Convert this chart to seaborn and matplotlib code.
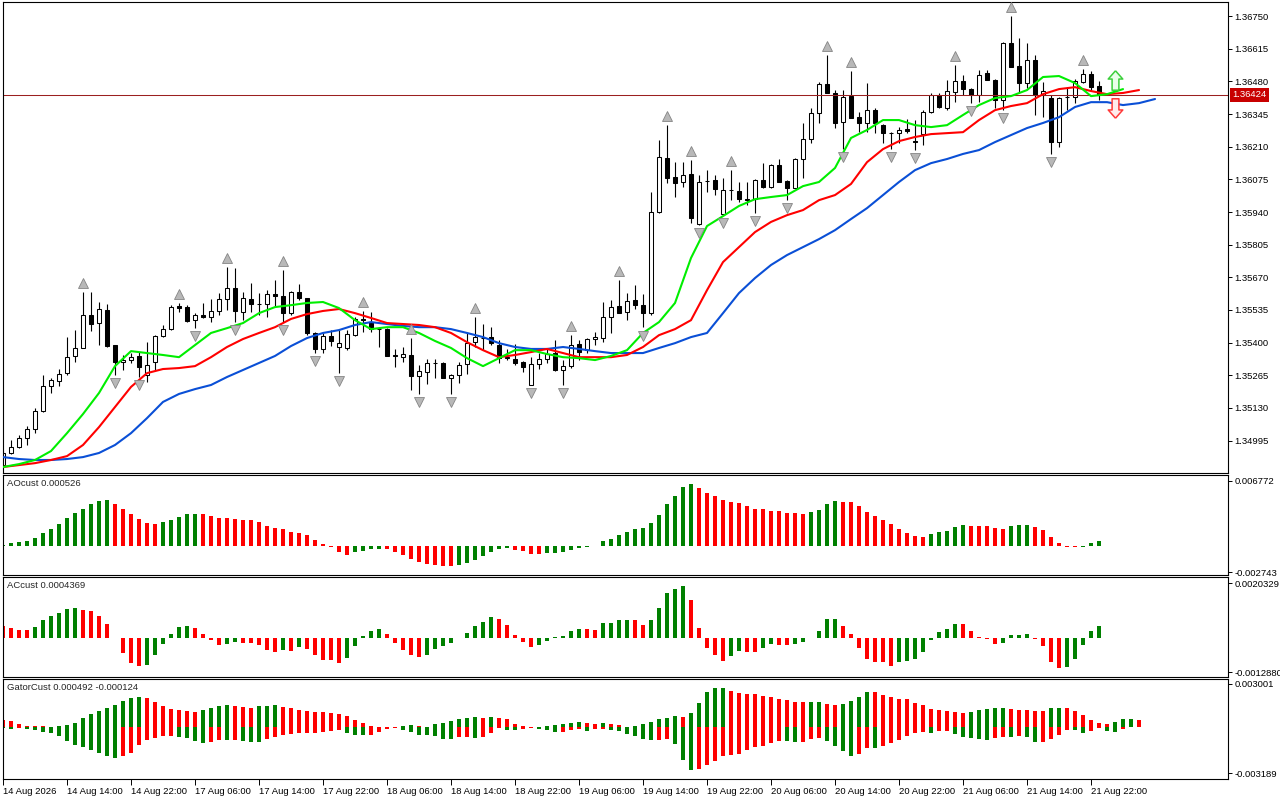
import numpy as np
import seaborn as sns
import matplotlib.pyplot as plt
from matplotlib import transforms
from matplotlib.path import Path

sns.set_theme(style="white")
plt.rcParams["font.family"] = ["Liberation Sans", "DejaVu Sans"]
plt.rcParams["font.size"] = 6.8

# ---------------- data (H1 bars, 14 Aug 06:00 .. 21 Aug 23:00) ----------------
opens = [
    1.34894, 1.34944, 1.34969, 1.35006, 1.35043, 1.35117, 1.35221, 1.35241, 1.35274, 1.35345,
    1.35378, 1.35514, 1.35481, 1.35535, 1.35390, 1.35320, 1.35328, 1.35345, 1.35266, 1.35320,
    1.35427, 1.35456, 1.35551, 1.35547, 1.35493, 1.35514, 1.35506, 1.35531, 1.35580, 1.35626,
    1.35526, 1.35580, 1.35560, 1.35560, 1.35601, 1.35593, 1.35522, 1.35609, 1.35584, 1.35440,
    1.35374, 1.35427, 1.35382, 1.35378, 1.35431, 1.35498, 1.35485, 1.35456, 1.35456, 1.35349,
    1.35340, 1.35349, 1.35262, 1.35279, 1.35316, 1.35316, 1.35254, 1.35266, 1.35312, 1.35402,
    1.35419, 1.35423, 1.35390, 1.35336, 1.35332, 1.35320, 1.35225, 1.35312, 1.35332, 1.35357,
    1.35287, 1.35303, 1.35394, 1.35369, 1.35415, 1.35419, 1.35506, 1.35551, 1.35526, 1.35576,
    1.35555, 1.35522, 1.35940, 1.36163, 1.36084, 1.36064, 1.36097, 1.35890, 1.36068, 1.36072,
    1.35932, 1.36031, 1.36027, 1.35993, 1.35993, 1.36072, 1.36043, 1.36134, 1.36068, 1.36039,
    1.36159, 1.36241, 1.36349, 1.36469, 1.36432, 1.36312, 1.36419, 1.36332, 1.36308, 1.36361,
    1.36299, 1.36266, 1.36266, 1.36283, 1.36233, 1.36262, 1.36353, 1.36423, 1.36370, 1.36436,
    1.36481, 1.36448, 1.36423, 1.36514, 1.36485, 1.36403, 1.36638, 1.36543, 1.36473, 1.36568,
    1.36423, 1.36411, 1.36229, 1.36415, 1.36415, 1.36477, 1.36510, 1.36461,
]
highs = [
    1.34952, 1.34997, 1.35018, 1.35055, 1.35130, 1.35266, 1.35254, 1.35291, 1.35423, 1.35452,
    1.35609, 1.35609, 1.35568, 1.35560, 1.35390, 1.35349, 1.35357, 1.35361, 1.35402, 1.35431,
    1.35473, 1.35555, 1.35564, 1.35555, 1.35522, 1.35564, 1.35580, 1.35605, 1.35712, 1.35708,
    1.35609, 1.35646, 1.35605, 1.35617, 1.35659, 1.35700, 1.35613, 1.35642, 1.35584, 1.35444,
    1.35440, 1.35452, 1.35452, 1.35452, 1.35506, 1.35531, 1.35526, 1.35464, 1.35460, 1.35374,
    1.35382, 1.35419, 1.35307, 1.35332, 1.35332, 1.35320, 1.35270, 1.35320, 1.35440, 1.35506,
    1.35477, 1.35464, 1.35411, 1.35374, 1.35394, 1.35324, 1.35340, 1.35357, 1.35378, 1.35411,
    1.35328, 1.35431, 1.35411, 1.35419, 1.35444, 1.35568, 1.35576, 1.35659, 1.35605, 1.35638,
    1.35601, 1.36022, 1.36237, 1.36299, 1.36146, 1.36146, 1.36155, 1.36093, 1.36113, 1.36093,
    1.36080, 1.36113, 1.36064, 1.36064, 1.36076, 1.36142, 1.36138, 1.36159, 1.36072, 1.36163,
    1.36308, 1.36370, 1.36477, 1.36589, 1.36444, 1.36444, 1.36523, 1.36353, 1.36473, 1.36370,
    1.36303, 1.36270, 1.36291, 1.36324, 1.36320, 1.36361, 1.36432, 1.36432, 1.36485, 1.36547,
    1.36506, 1.36452, 1.36527, 1.36527, 1.36489, 1.36642, 1.36750, 1.36659, 1.36638, 1.36589,
    1.36477, 1.36423, 1.36415, 1.36456, 1.36489, 1.36531, 1.36523, 1.36481,
]
lows = [
    1.34890, 1.34940, 1.34964, 1.34977, 1.35026, 1.35113, 1.35192, 1.35221, 1.35266, 1.35320,
    1.35378, 1.35448, 1.35390, 1.35382, 1.35266, 1.35287, 1.35316, 1.35258, 1.35237, 1.35287,
    1.35423, 1.35452, 1.35526, 1.35485, 1.35460, 1.35502, 1.35485, 1.35514, 1.35535, 1.35485,
    1.35493, 1.35526, 1.35514, 1.35506, 1.35547, 1.35485, 1.35514, 1.35576, 1.35431, 1.35357,
    1.35357, 1.35386, 1.35274, 1.35369, 1.35427, 1.35444, 1.35444, 1.35382, 1.35345, 1.35299,
    1.35320, 1.35204, 1.35188, 1.35229, 1.35254, 1.35254, 1.35188, 1.35233, 1.35270, 1.35382,
    1.35369, 1.35390, 1.35316, 1.35328, 1.35307, 1.35279, 1.35225, 1.35291, 1.35316, 1.35283,
    1.35225, 1.35295, 1.35328, 1.35357, 1.35390, 1.35402, 1.35440, 1.35522, 1.35493, 1.35539,
    1.35464, 1.35514, 1.35936, 1.36060, 1.36002, 1.36043, 1.35894, 1.35886, 1.36022, 1.36010,
    1.35927, 1.35989, 1.35981, 1.35969, 1.35936, 1.36039, 1.36039, 1.36064, 1.35989, 1.36039,
    1.36080, 1.36225, 1.36308, 1.36432, 1.36287, 1.36200, 1.36328, 1.36270, 1.36270, 1.36266,
    1.36225, 1.36200, 1.36225, 1.36266, 1.36196, 1.36217, 1.36349, 1.36370, 1.36361, 1.36394,
    1.36423, 1.36390, 1.36394, 1.36485, 1.36370, 1.36361, 1.36539, 1.36432, 1.36452, 1.36341,
    1.36332, 1.36180, 1.36208, 1.36361, 1.36390, 1.36473, 1.36444, 1.36403,
]
closes = [
    1.34944, 1.34969, 1.35006, 1.35043, 1.35117, 1.35221, 1.35245, 1.35270, 1.35340, 1.35378,
    1.35514, 1.35477, 1.35539, 1.35386, 1.35320, 1.35328, 1.35340, 1.35299, 1.35307, 1.35427,
    1.35456, 1.35547, 1.35543, 1.35489, 1.35514, 1.35506, 1.35531, 1.35580, 1.35626, 1.35531,
    1.35584, 1.35560, 1.35560, 1.35601, 1.35593, 1.35522, 1.35609, 1.35584, 1.35440, 1.35374,
    1.35427, 1.35407, 1.35398, 1.35436, 1.35498, 1.35493, 1.35456, 1.35456, 1.35345, 1.35345,
    1.35353, 1.35262, 1.35283, 1.35316, 1.35316, 1.35254, 1.35266, 1.35307, 1.35398, 1.35423,
    1.35419, 1.35398, 1.35336, 1.35340, 1.35316, 1.35299, 1.35312, 1.35332, 1.35353, 1.35287,
    1.35303, 1.35390, 1.35361, 1.35415, 1.35423, 1.35506, 1.35547, 1.35522, 1.35572, 1.35555,
    1.35522, 1.35940, 1.36167, 1.36080, 1.36060, 1.36093, 1.35915, 1.36064, 1.36068, 1.36035,
    1.36031, 1.36031, 1.35993, 1.35989, 1.36072, 1.36043, 1.36134, 1.36064, 1.36039, 1.36159,
    1.36241, 1.36349, 1.36469, 1.36432, 1.36308, 1.36415, 1.36328, 1.36308, 1.36361, 1.36308,
    1.36266, 1.36266, 1.36279, 1.36275, 1.36229, 1.36353, 1.36423, 1.36374, 1.36440, 1.36481,
    1.36448, 1.36423, 1.36506, 1.36485, 1.36403, 1.36638, 1.36539, 1.36473, 1.36568, 1.36423,
    1.36440, 1.36229, 1.36411, 1.36415, 1.36481, 1.36510, 1.36456, 1.36424,
]

# Alligator lines, read every second bar (jaw/teeth/lips run past the last bar)
jaw = [
    1.34927, 1.34919, 1.34915, 1.34915, 1.34919, 1.34927, 1.34944, 1.34977, 1.35026, 1.35088,
    1.35155, 1.35188, 1.35208, 1.35225, 1.35258, 1.35287, 1.35316, 1.35345, 1.35386, 1.35419,
    1.35440, 1.35452, 1.35473, 1.35485, 1.35477, 1.35469, 1.35464, 1.35464, 1.35456, 1.35440,
    1.35423, 1.35398, 1.35382, 1.35374, 1.35374, 1.35382, 1.35374, 1.35365, 1.35357, 1.35357,
    1.35357, 1.35378, 1.35398, 1.35423, 1.35440, 1.35522, 1.35605, 1.35667, 1.35721, 1.35762,
    1.35795, 1.35828, 1.35865, 1.35911, 1.35956, 1.36010, 1.36064, 1.36113, 1.36142, 1.36159,
    1.36180, 1.36196, 1.36229, 1.36258, 1.36287, 1.36308, 1.36332, 1.36374, 1.36394, 1.36394,
    1.36382, 1.36390, 1.36407,
]
teeth = [
    1.34886, 1.34894, 1.34902, 1.34915, 1.34931, 1.34977, 1.35051, 1.35134, 1.35217, 1.35274,
    1.35291, 1.35295, 1.35303, 1.35340, 1.35382, 1.35415, 1.35440, 1.35464, 1.35498, 1.35518,
    1.35531, 1.35539, 1.35522, 1.35502, 1.35481, 1.35477, 1.35473, 1.35464, 1.35440, 1.35402,
    1.35369, 1.35340, 1.35349, 1.35361, 1.35374, 1.35357, 1.35340, 1.35340, 1.35340, 1.35349,
    1.35382, 1.35431, 1.35456, 1.35493, 1.35617, 1.35733, 1.35795, 1.35857, 1.35899, 1.35927,
    1.35948, 1.35989, 1.36010, 1.36056, 1.36146, 1.36200, 1.36233, 1.36250, 1.36262, 1.36266,
    1.36270, 1.36320, 1.36361, 1.36378, 1.36390, 1.36427, 1.36448, 1.36456, 1.36440, 1.36427,
    1.36432, 1.36444,
]
lips = [
    1.34886, 1.34898, 1.34915, 1.34952, 1.35026, 1.35105, 1.35192, 1.35303, 1.35365, 1.35357,
    1.35349, 1.35340, 1.35390, 1.35440, 1.35460, 1.35481, 1.35522, 1.35547, 1.35555, 1.35564,
    1.35568, 1.35543, 1.35493, 1.35456, 1.35464, 1.35464, 1.35440, 1.35407, 1.35378, 1.35336,
    1.35303, 1.35336, 1.35369, 1.35369, 1.35353, 1.35340, 1.35336, 1.35328, 1.35345, 1.35369,
    1.35440, 1.35485, 1.35564, 1.35750, 1.35882, 1.35923, 1.35965, 1.35993, 1.36002, 1.36010,
    1.36047, 1.36064, 1.36122, 1.36246, 1.36279, 1.36320, 1.36320, 1.36299, 1.36291, 1.36299,
    1.36341, 1.36382, 1.36411, 1.36419, 1.36444, 1.36498, 1.36502, 1.36473, 1.36419, 1.36427,
    1.36448,
]

up_fractals = [10, 22, 28, 35, 45, 51, 59, 71, 77, 83, 86, 91, 103, 106, 119, 126, 135]
down_fractals = [14, 17, 24, 29, 35, 39, 42, 52, 56, 66, 70, 80, 87, 90, 94, 98, 105,
                 111, 114, 121, 125, 131]

ao = [
    0.000073, 0.000343, 0.000447, 0.000520, 0.000863, 0.001383, 0.001768, 0.002319, 0.002943, 0.003463,
    0.003848, 0.004399, 0.004711, 0.004815, 0.004399, 0.003848, 0.003359, 0.002839, 0.002423, 0.002319,
    0.002527, 0.002735, 0.003047, 0.003297, 0.003328, 0.003297, 0.003151, 0.002943, 0.002912, 0.002808,
    0.002704, 0.002673, 0.002465, 0.002111, 0.001903, 0.001768, 0.001487, 0.001321, 0.001175, 0.000655,
    0.000239, -0.000135, -0.000655, -0.000936, -0.000655, -0.000489, -0.000343, -0.000312, -0.000343, -0.000593,
    -0.000936, -0.001352, -0.001664, -0.001872, -0.001976, -0.002080, -0.002111, -0.001976, -0.001737, -0.001456,
    -0.001040, -0.000624, -0.000312, -0.000208, -0.000416, -0.000520, -0.000801, -0.000832, -0.000697, -0.000676,
    -0.000655, -0.000416, -0.000208, -0.000073, -0.000031, 0.000551, 0.000728, 0.001144, 0.001456, 0.001768,
    0.001872, 0.002423, 0.003255, 0.004368, 0.005200, 0.006167, 0.006448, 0.006063, 0.005512, 0.005231,
    0.004784, 0.004576, 0.004472, 0.004191, 0.003879, 0.003817, 0.003640, 0.003609, 0.003463, 0.003432,
    0.003359, 0.003567, 0.003775, 0.004399, 0.004680, 0.004607, 0.004576, 0.004191, 0.003567, 0.003151,
    0.002735, 0.002257, 0.001799, 0.001383, 0.001071, 0.000967, 0.001279, 0.001456, 0.001560, 0.001976,
    0.002215, 0.002111, 0.002080, 0.002049, 0.001872, 0.001799, 0.002111, 0.002142, 0.002174, 0.001976,
    0.001664, 0.000967, 0.000343, -0.000073, -0.000135, -0.000073, 0.000343, 0.000526,
]
ac = [
    0.000436, 0.000362, 0.000287, 0.000280, 0.000399, 0.000660, 0.000809, 0.000921, 0.001071, 0.001108,
    0.001033, 0.000996, 0.000809, 0.000511, -0.000026, -0.000571, -0.000944, -0.001056, -0.001018, -0.000645,
    -0.000235, 0.000138, 0.000399, 0.000436, 0.000362, 0.000138, -0.000086, -0.000272, -0.000235, -0.000160,
    -0.000198, -0.000213, -0.000272, -0.000459, -0.000533, -0.000459, -0.000496, -0.000347, -0.000421, -0.000645,
    -0.000832, -0.000847, -0.000944, -0.000757, -0.000310, 0.000075, 0.000250, 0.000325, 0.000138, -0.000187,
    -0.000459, -0.000645, -0.000720, -0.000634, -0.000410, -0.000298, -0.000198, -0.000026, 0.000175, 0.000448,
    0.000586, 0.000772, 0.000698, 0.000474, 0.000101, -0.000160, -0.000336, -0.000261, -0.000112, 0.000037,
    0.000075, 0.000250, 0.000325, 0.000310, 0.000298, 0.000548, 0.000560, 0.000660, 0.000671, 0.000660,
    0.000474, 0.000660, 0.001119, 0.001667, 0.001817, 0.001928, 0.001406, 0.000362, -0.000373, -0.000645,
    -0.000869, -0.000671, -0.000496, -0.000533, -0.000548, -0.000373, -0.000235, -0.000272, -0.000283, -0.000235,
    -0.000160, -0.000026, 0.000250, 0.000698, 0.000709, 0.000436, 0.000138, -0.000373, -0.000794, -0.000906,
    -0.000921, -0.001056, -0.000906, -0.000869, -0.000794, -0.000533, -0.000075, 0.000213, 0.000325, 0.000511,
    0.000496, 0.000250, 0.000037, -0.000037, -0.000224, -0.000213, 0.000101, 0.000112, 0.000123, -0.000037,
    -0.000298, -0.000906, -0.001119, -0.001108, -0.000794, -0.000261, 0.000250, 0.0004369,
]
gator_up = [
    0.000506, 0.000464, 0.000229, 0.000118, 0.000069, 0.000062, 0.000010, 0.000090, 0.000187, 0.000326,
    0.000624, 0.000949, 0.001130, 0.001337, 0.001545, 0.001823, 0.002010, 0.002100, 0.002010, 0.001733,
    0.001476, 0.001247, 0.001199, 0.001109, 0.001060, 0.001199, 0.001337, 0.001504, 0.001545, 0.001476,
    0.001386, 0.001337, 0.001476, 0.001504, 0.001511, 0.001435, 0.001337, 0.001227, 0.001157, 0.001088,
    0.001060, 0.000991, 0.000922, 0.000783, 0.000506, 0.000277, 0.000118, 0.000021, 0.000014, 0.000007,
    0.000118, 0.000187, 0.000117, 0.000014, 0.000256, 0.000326, 0.000464, 0.000603, 0.000672, 0.000679,
    0.000665, 0.000742, 0.000672, 0.000575, 0.000256, 0.000118, 0.000021, 0.000049, 0.000118, 0.000187,
    0.000256, 0.000326, 0.000395, 0.000326, 0.000256, 0.000326, 0.000256, 0.000187, 0.000035, 0.000118,
    0.000256, 0.000367, 0.000603, 0.000672, 0.000811, 0.000714, 0.000991, 0.001684, 0.002446, 0.002723,
    0.002730, 0.002516, 0.002377, 0.002308, 0.002301, 0.002169, 0.002100, 0.001961, 0.001892, 0.001753,
    0.001746, 0.001760, 0.001767, 0.001615, 0.001545, 0.001615, 0.001823, 0.002100, 0.002446, 0.002439,
    0.002238, 0.002100, 0.001961, 0.001954, 0.001684, 0.001545, 0.001268, 0.001199, 0.001130, 0.001060,
    0.000991, 0.001060, 0.001199, 0.001268, 0.001337, 0.001344, 0.001268, 0.001199, 0.001192, 0.001130,
    0.001123, 0.001337, 0.001344, 0.001337, 0.001130, 0.000852, 0.000506, 0.000298, 0.000229, 0.000367,
    0.000575, 0.000589, 0.000492,
]
gator_down = [
    -0.000069, -0.000118, -0.000049, -0.000090, -0.000187, -0.000326, -0.000416, -0.000575, -0.000949, -0.001199,
    -0.001337, -0.001573, -0.001753, -0.001961, -0.002100, -0.001989, -0.001753, -0.001247, -0.000880, -0.000762,
    -0.000603, -0.000589, -0.000693, -0.000762, -0.000949, -0.001060, -0.001040, -0.000880, -0.000901, -0.000880,
    -0.000922, -0.001019, -0.001026, -0.000783, -0.000693, -0.000534, -0.000485, -0.000416, -0.000402, -0.000367,
    -0.000353, -0.000256, -0.000187, -0.000416, -0.000534, -0.000541, -0.000520, -0.000298, -0.000118, -0.000049,
    -0.000187, -0.000326, -0.000534, -0.000541, -0.000575, -0.000811, -0.000818, -0.000672, -0.000658, -0.000714,
    -0.000672, -0.000367, -0.000049, -0.000187, -0.000194, -0.000118, -0.000021, -0.000118, -0.000187, -0.000326,
    -0.000312, -0.000187, -0.000118, -0.000256, -0.000118, -0.000111, -0.000187, -0.000256, -0.000464, -0.000603,
    -0.000811, -0.000880, -0.000873, -0.000811, -0.001157, -0.002266, -0.002959, -0.002890, -0.002613, -0.002335,
    -0.001989, -0.001920, -0.001850, -0.001573, -0.001365, -0.001296, -0.001088, -0.000949, -0.000956, -0.001019,
    -0.001012, -0.000811, -0.000742, -0.000949, -0.001296, -0.001642, -0.001989, -0.001850, -0.001435, -0.001441,
    -0.001296, -0.001088, -0.000880, -0.000603, -0.000395, -0.000326, -0.000395, -0.000256, -0.000249, -0.000464,
    -0.000672, -0.000742, -0.000811, -0.000880, -0.000742, -0.000672, -0.000679, -0.000603, -0.000672, -0.001019,
    -0.001012, -0.000811, -0.000534, -0.000187, -0.000194, -0.000395, -0.000256, -0.000021, -0.000229, -0.000298,
    -0.000124,
]

x_labels = ["14 Aug 2026", "14 Aug 14:00", "14 Aug 22:00", "17 Aug 06:00", "17 Aug 14:00",
            "17 Aug 22:00", "18 Aug 06:00", "18 Aug 14:00", "18 Aug 22:00", "19 Aug 06:00",
            "19 Aug 14:00", "19 Aug 22:00", "20 Aug 06:00", "20 Aug 14:00", "20 Aug 22:00",
            "21 Aug 06:00", "21 Aug 14:00", "21 Aug 22:00"]
price_ticks = [1.34995, 1.35130, 1.35265, 1.35400, 1.35535, 1.35670, 1.35805,
               1.35940, 1.36075, 1.36210, 1.36345, 1.36480, 1.36615, 1.36750]
ao_scale = [-0.002743, 0.006772]
ac_scale = [-0.0012880, 0.0020329]
gator_scale = [-0.003189, 0.003001]

# ---------------- styling ----------------
GREEN = "#008000"
RED = "#ff0000"
W, H = 1280, 800


def panel(left, top, right, bottom):
    return [left / W, 1 - bottom / H, (right - left) / W, (bottom - top) / H]


def updown_colors(v, first):
    v = np.abs(np.asarray(v))
    return [first] + [GREEN if b > a else RED for a, b in zip(v[:-1], v[1:])]


def signed_colors(v, first):
    v = np.asarray(v)
    return [first] + [GREEN if b > a else RED for a, b in zip(v[:-1], v[1:])]


fig = plt.figure(figsize=(12.8, 8), dpi=100)
ax = fig.add_axes(panel(3, 2, 1227.5, 473.3))
ax_ao = fig.add_axes(panel(3, 475.3, 1227.5, 575), sharex=ax)
ax_ac = fig.add_axes(panel(3, 576.7, 1227.5, 676.7), sharex=ax)
ax_gt = fig.add_axes(panel(3, 679, 1227.5, 779), sharex=ax)

o, h, l, c = (np.array(a) for a in (opens, highs, lows, closes))
n = len(c)
idx = np.arange(n)

# candles
ax.vlines(idx, l, h, color="black", lw=0.8, zorder=1.5)
ax.bar(idx, np.abs(c - o), bottom=np.minimum(o, c), width=0.55,
       color=np.where(c > o, "white", "black"), edgecolor="black",
       linewidth=0.75, zorder=2)

# alligator (jaw, teeth, lips)
for vals, col in ((jaw, "#0a4fd6"), (teeth, "#ff0000"), (lips, "#00ee00")):
    sns.lineplot(x=np.arange(len(vals)) * 2, y=vals, ax=ax, color=col,
                 linewidth=1.5, estimator=None, zorder=3)

# fractals
up_tr = transforms.offset_copy(ax.transData, fig=fig, y=6.5, units="points")
dn_tr = transforms.offset_copy(ax.transData, fig=fig, y=-6.0, units="points")
ax.plot(up_fractals, h[up_fractals], ls="none", marker="^", ms=6.5,
        mfc="#b8b8b8", mec="#858585", mew=0.6, transform=up_tr, zorder=4)
ax.plot(down_fractals, l[down_fractals], ls="none", marker="v", ms=6.5,
        mfc="#b8b8b8", mec="#858585", mew=0.6, transform=dn_tr, zorder=4)

# signal arrows after the last bar
arrow_up = Path([(0, 1), (0.75, 0.15), (0.35, 0.15), (0.35, -1), (-0.35, -1),
                 (-0.35, 0.15), (-0.75, 0.15), (0, 1)])
arrow_dn = Path([(x, -y) for x, y in arrow_up.vertices])
sig_up = transforms.offset_copy(ax.transData, fig=fig, y=10.8, units="points")
sig_dn = transforms.offset_copy(ax.transData, fig=fig, y=-9.7, units="points")
ax.plot([n + 1], [c[-1]], marker=arrow_up, ms=14, mfc="#eaffea", mec="#3ccf3c",
        mew=1.1, transform=sig_up, zorder=5)
ax.plot([n + 1], [c[-1]], marker=arrow_dn, ms=14, mfc="#ffecec", mec="#ff3a3a",
        mew=1.1, transform=sig_dn, zorder=5)

# current price line + label
ax.axhline(c[-1], color="#9b2020", lw=0.75, zorder=2.5)
ax.annotate(f"{c[-1]:.5f}", xy=(1, c[-1]), xycoords=("axes fraction", "data"),
            xytext=(3.5, 0), textcoords="offset points", ha="left", va="center",
            color="white", fontsize=6.8,
            bbox=dict(boxstyle="square,pad=0.25", fc="#c80000", ec="none"))

ax.set_ylim(1.34860, 1.36808)
ax.set_yticks(price_ticks)
ax.set_yticklabels([f"{v:.5f}" for v in price_ticks])

# AO
ax_ao.bar(idx, ao, width=0.5, color=signed_colors(ao, GREEN), linewidth=0)
ax_ao.set_ylim(-0.003016, 0.007353)
ax_ao.set_yticks(ao_scale)
ax_ao.set_yticklabels([f"{v:.6f}" for v in ao_scale])

# AC
ax_ac.bar(idx, ac, width=0.5, color=signed_colors(ac, RED), linewidth=0)
ax_ac.set_ylim(-0.001455, 0.002275)
ax_ac.set_yticks(ac_scale)
ax_ac.set_yticklabels([f"{v:.7f}" for v in ac_scale])

# Gator
ax_gt.bar(np.arange(len(gator_up)), gator_up, width=0.5,
          color=updown_colors(gator_up, RED), linewidth=0)
ax_gt.bar(np.arange(len(gator_down)), gator_down, width=0.5,
          color=updown_colors(gator_down, GREEN), linewidth=0)
ax_gt.set_ylim(-0.003583, 0.003347)
ax_gt.set_yticks(gator_scale)
ax_gt.set_yticklabels([f"{v:.6f}" for v in gator_scale])

titles = {
    ax_ao: f"AOcust {ao[-1]:.6f}",
    ax_ac: f"ACcust {ac[-1]:.7f}",
    ax_gt: f"GatorCust {gator_up[-1]:.6f} {gator_down[-1]:.6f}",
}
for a, t in titles.items():
    a.annotate(t, xy=(0, 1), xycoords="axes fraction", xytext=(3, -3),
               textcoords="offset points", ha="left", va="top", fontsize=6.8)

ax.set_xlim(0, 153.06)
ax_gt.set_xticks(np.arange(0, n, 8))
ax_gt.set_xticklabels(x_labels)
for t in ax_gt.get_xticklabels():
    t.set_horizontalalignment("left")

for a in (ax, ax_ao, ax_ac, ax_gt):
    a.grid(False)
    a.set_facecolor("white")
    a.yaxis.tick_right()
    a.tick_params(axis="y", direction="out", length=3, width=0.7, pad=2,
                  labelsize=6.8, colors="black", right=True, left=False)
    a.tick_params(axis="x", bottom=False, labelbottom=False)
    for s in a.spines.values():
        s.set_visible(True)
        s.set_color("black")
        s.set_linewidth(0.8)
    a.set_xlabel("")
    a.set_ylabel("")

ax_gt.tick_params(axis="x", bottom=True, labelbottom=True, direction="out",
                  length=4, width=0.7, pad=1.5, labelsize=6.8, colors="black")

fig.savefig("out.png", dpi=100, facecolor="white")
